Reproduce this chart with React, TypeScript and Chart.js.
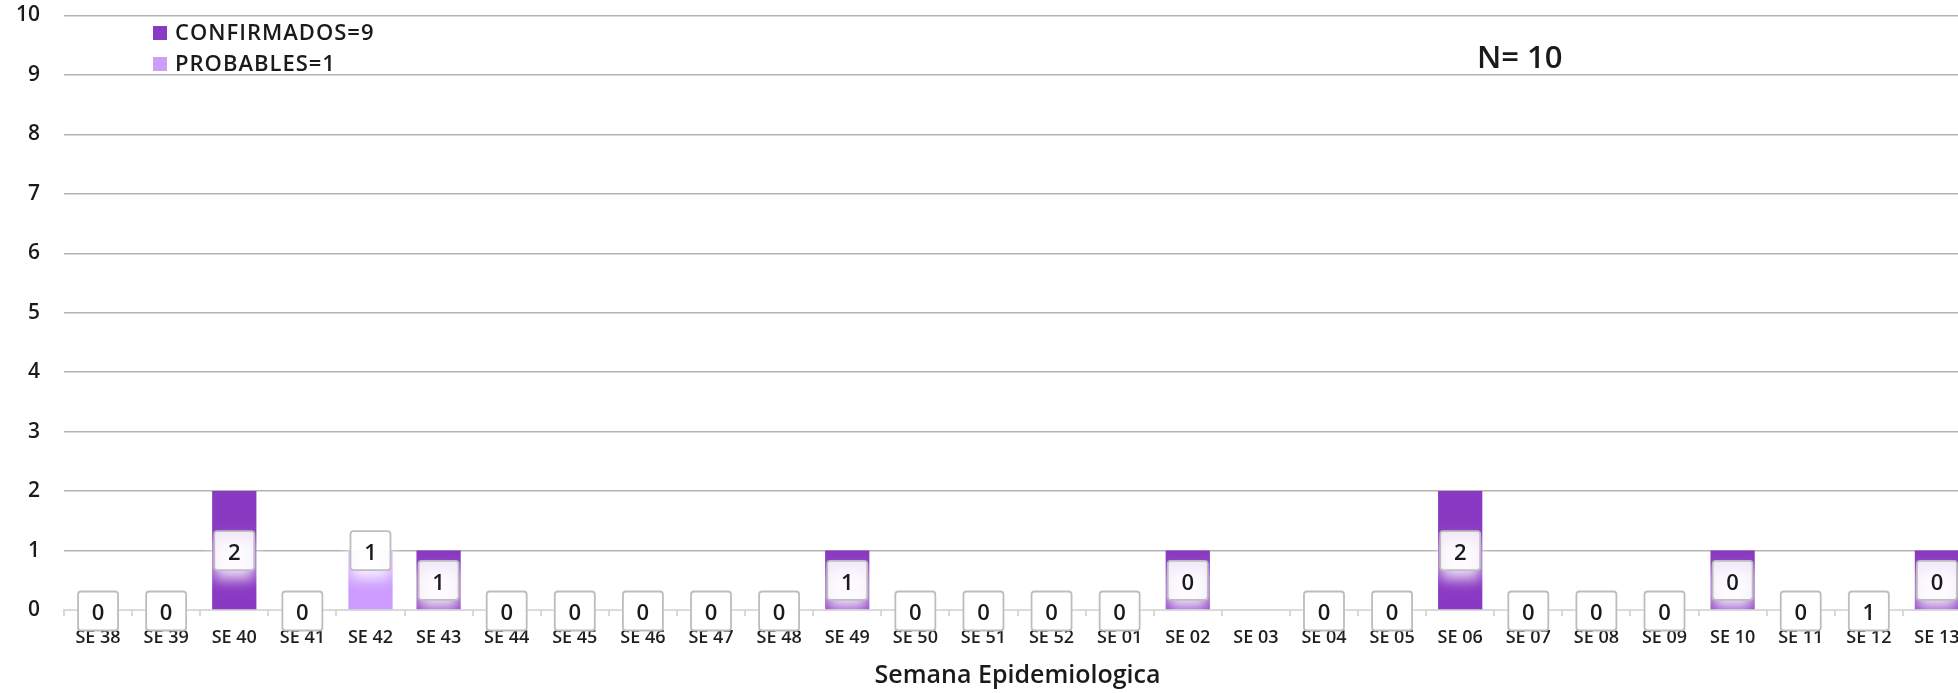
import React, { useEffect, useRef } from "react";
import { Chart, registerables } from "chart.js";

Chart.register(...registerables);

const categories = [
  "SE 38", "SE 39", "SE 40", "SE 41", "SE 42", "SE 43", "SE 44", "SE 45", "SE 46", "SE 47",
  "SE 48", "SE 49", "SE 50", "SE 51", "SE 52", "SE 01", "SE 02", "SE 03", "SE 04", "SE 05",
  "SE 06", "SE 07", "SE 08", "SE 09", "SE 10", "SE 11", "SE 12", "SE 13",
];
const confirmados = [0, 0, 2, 0, 0, 1, 0, 0, 0, 0, 0, 1, 0, 0, 0, 0, 1, 0, 0, 0, 2, 0, 0, 0, 1, 0, 0, 1];
const probables = [0, 0, 0, 0, 1, 0, 0, 0, 0, 0, 0, 0, 0, 0, 0, 0, 0, 0, 0, 0, 0, 0, 0, 0, 0, 0, 0, 0];
const boxLabels: (string | null)[] = [
  "0", "0", "2", "0", "1", "1", "0", "0", "0", "0",
  "0", "1", "0", "0", "0", "0", "0", null, "0", "0",
  "2", "0", "0", "0", "0", "0", "1", "0",
];
const seriesNames = ["CONFIRMADOS", "PROBABLES"];
const yMin = 0;
const yMax = 10;
const yStep = 1;
const xTitle = "Semana Epidemiologica";

const COLOR_CONF = "#8A3AC2";
const COLOR_PROB = "#CC9CFF";
const FONT = "'Open Sans', 'Noto Sans', sans-serif";

const sum = (a: number[]) => a.reduce((s, v) => s + v, 0);

function roundRect(ctx: CanvasRenderingContext2D, x: number, y: number, w: number, h: number, r: number) {
  ctx.beginPath();
  ctx.moveTo(x + r, y);
  ctx.lineTo(x + w - r, y);
  ctx.quadraticCurveTo(x + w, y, x + w, y + r);
  ctx.lineTo(x + w, y + h - r);
  ctx.quadraticCurveTo(x + w, y + h, x + w - r, y + h);
  ctx.lineTo(x + r, y + h);
  ctx.quadraticCurveTo(x, y + h, x, y + h - r);
  ctx.lineTo(x, y + r);
  ctx.quadraticCurveTo(x, y, x + r, y);
  ctx.closePath();
}

const overlayPlugin = {
  id: "overlay",
  afterDraw(chart: any) {
    const ctx: CanvasRenderingContext2D = chart.ctx;
    const xs = chart.scales.x;
    const ys = chart.scales.y;
    const area = chart.chartArea;
    const W = chart.width;
    const H = chart.height;

    // label boxes
    boxLabels.forEach((lab, i) => {
      if (lab === null) return;
      const cx = xs.getPixelForValue(i);
      let vy: number;
      if (confirmados[i] > 0) vy = confirmados[i] / 2;
      else if (probables[i] > 0) vy = confirmados[i] + probables[i];
      else vy = 0;
      const cy = ys.getPixelForValue(vy) + (vy === 0 ? 1 : 0);
      const w = 40;
      const h = 39;
      const bx = cx - w / 2;
      const by = cy - h / 2;
      // inside plot area: fill with white glow
      ctx.save();
      ctx.beginPath();
      ctx.rect(0, 0, W, area.bottom);
      ctx.clip();
      ctx.shadowColor = "rgba(255,255,255,0.95)";
      ctx.shadowBlur = 14;
      ctx.shadowOffsetY = 9;
      roundRect(ctx, bx, by, w, h, 3);
      ctx.fillStyle = "rgba(255,255,255,0.88)";
      ctx.fill();
      ctx.restore();
      // below plot area: plain fill
      ctx.save();
      ctx.beginPath();
      ctx.rect(0, area.bottom, W, H - area.bottom);
      ctx.clip();
      roundRect(ctx, bx, by, w, h, 3);
      ctx.fillStyle = "rgba(255,255,255,0.95)";
      ctx.fill();
      ctx.restore();

      ctx.save();
      roundRect(ctx, bx, by, w, h, 3);
      ctx.lineWidth = 1.8;
      ctx.strokeStyle = "#bdbdbd";
      ctx.stroke();
      ctx.fillStyle = "#1a1a1a";
      ctx.font = `600 22px ${FONT}`;
      ctx.textAlign = "center";
      ctx.textBaseline = "middle";
      ctx.fillText(lab, cx, cy + 3);
      ctx.restore();
    });

    // legend
    ctx.save();
    const legendItems = [
      { text: `${seriesNames[0]}=${sum(confirmados)}`, color: COLOR_CONF, y: 33 },
      { text: `${seriesNames[1]}=${sum(probables)}`, color: COLOR_PROB, y: 64 },
    ];
    legendItems.forEach((it) => {
      ctx.fillStyle = it.color;
      ctx.fillRect(153, it.y - 7, 14, 14);
      ctx.fillStyle = "#1a1a1a";
      ctx.font = `600 22px ${FONT}`;
      (ctx as any).letterSpacing = "1px";
      ctx.textAlign = "left";
      ctx.textBaseline = "middle";
      ctx.fillText(it.text, 175, it.y + 1);
    });
    (ctx as any).letterSpacing = "0px";

    // N
    ctx.font = `600 31px ${FONT}`;
    ctx.fillStyle = "#1a1a1a";
    ctx.textAlign = "left";
    ctx.textBaseline = "middle";
    ctx.fillText(`N= ${sum(confirmados) + sum(probables)}`, 1477, 59);

    // x title
    ctx.font = `600 25px ${FONT}`;
    ctx.textAlign = "center";
    ctx.fillText(xTitle, (area.left + area.right) / 2, 676);
    ctx.restore();
  },
};

export default function App() {
  const ref = useRef<HTMLCanvasElement | null>(null);

  useEffect(() => {
    if (!ref.current) return;
    const chart = new Chart(ref.current, {
      type: "bar",
      data: {
        labels: categories,
        datasets: [
          {
            label: seriesNames[0],
            data: confirmados,
            backgroundColor: COLOR_CONF,
            borderWidth: 0,
            barPercentage: 0.65,
            categoryPercentage: 1,
          },
          {
            label: seriesNames[1],
            data: probables,
            backgroundColor: COLOR_PROB,
            borderWidth: 0,
            barPercentage: 0.65,
            categoryPercentage: 1,
          },
        ],
      },
      options: {
        animation: false,
        responsive: false,
        devicePixelRatio: 1,
        layout: { padding: { top: 15.5, right: 19, left: 0, bottom: 0 } },
        plugins: {
          legend: { display: false },
          tooltip: { enabled: false },
          title: { display: false },
        },
        scales: {
          x: {
            stacked: true,
            grid: {
              offset: true,
              drawOnChartArea: false,
              drawTicks: true,
              tickLength: 6,
              color: "#d9d9d9",
              lineWidth: 2,
            },
            border: { display: true, color: "#d9d9d9", width: 2 },
            ticks: {
              autoSkip: false,
              maxRotation: 0,
              minRotation: 0,
              padding: 11,
              color: "#1f1f1f",
              font: { family: FONT, size: 18, weight: 600 },
            },
            afterFit: (scale: any) => {
              scale.height = 83;
            },
          },
          y: {
            stacked: true,
            min: yMin,
            max: yMax,
            ticks: {
              stepSize: yStep,
              padding: 24,
              color: "#1a1a1a",
              font: { family: FONT, size: 21, weight: 600 },
            },
            grid: {
              drawTicks: false,
              color: (c: any) => (c.tick && c.tick.value === 0 ? "rgba(0,0,0,0)" : "#b3b3b3"),
              lineWidth: 1.5,
            },
            border: { display: false },
            afterFit: (scale: any) => {
              scale.width = 64;
              scale.paddingTop = 0;
              scale.paddingBottom = 0;
            },
          },
        },
      },
      plugins: [overlayPlugin],
    });
    return () => chart.destroy();
  }, []);

  return (
    <div
      style={{
        position: "absolute",
        left: 0,
        top: 0,
        width: 1958,
        height: 693,
        overflow: "hidden",
        background: "#fff",
      }}
    >
      <canvas ref={ref} width={1990} height={693} style={{ width: 1990, height: 693, display: "block" }} />
    </div>
  );
}
